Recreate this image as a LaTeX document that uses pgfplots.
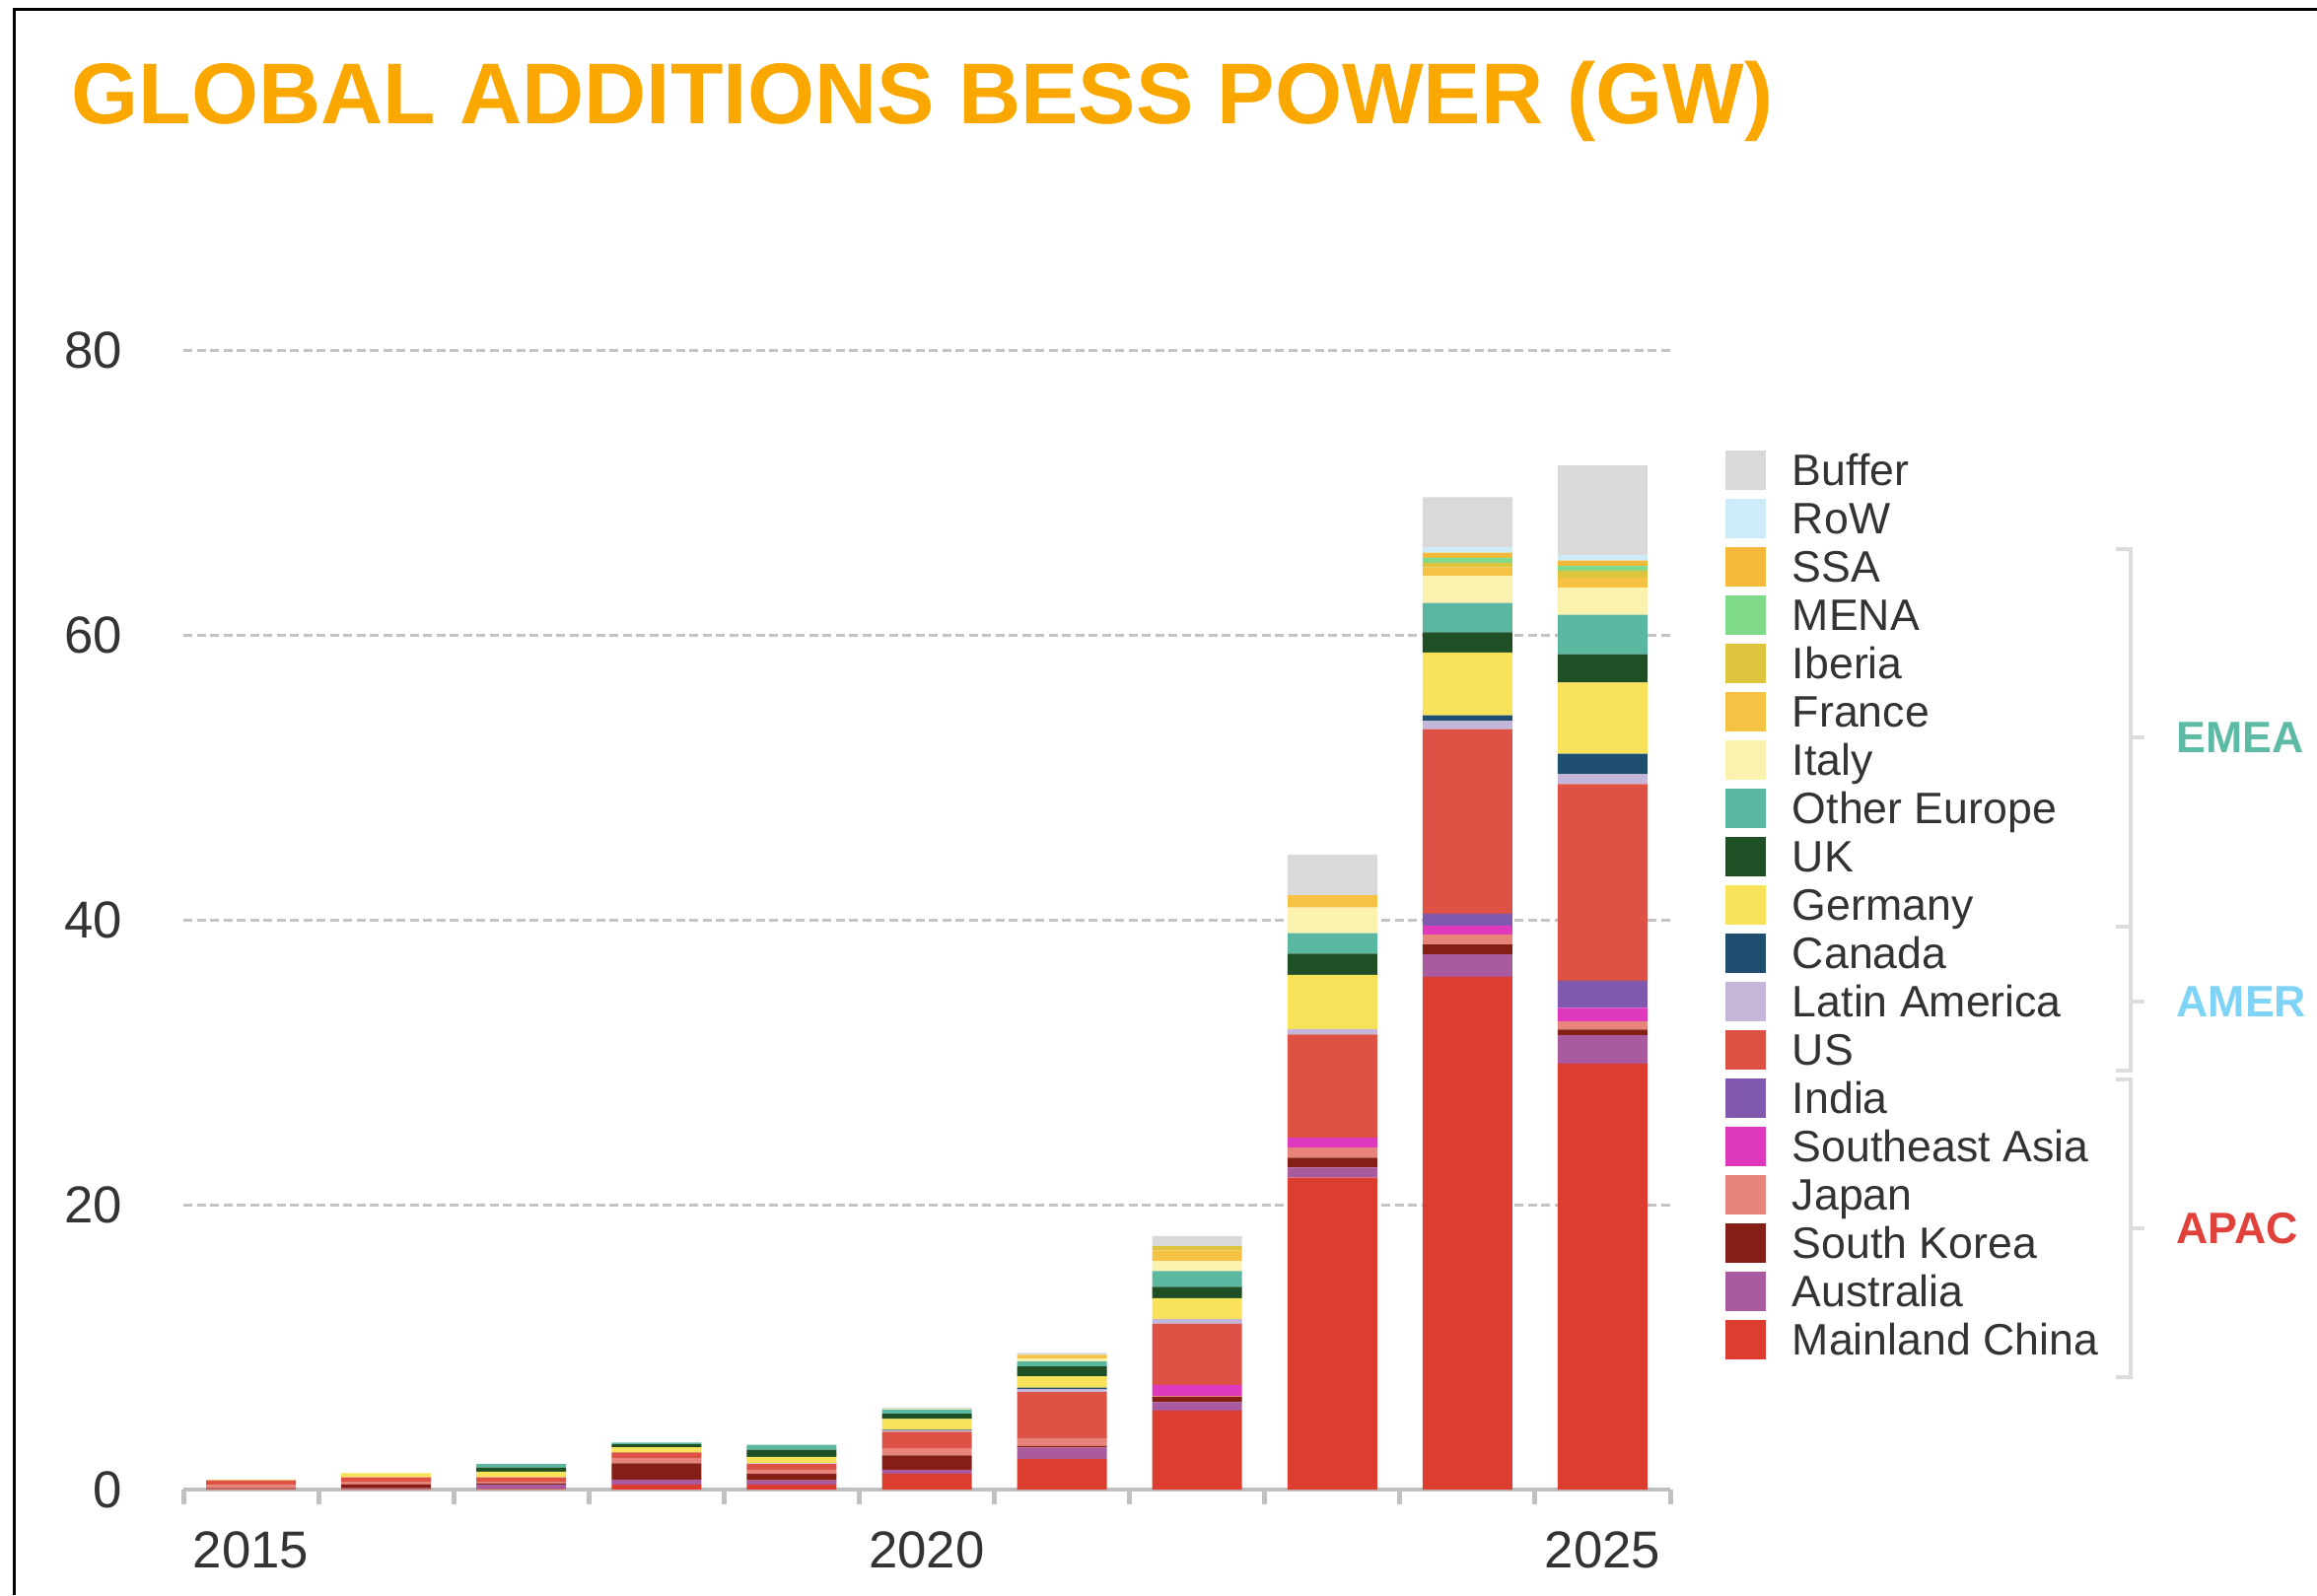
\documentclass[border=0pt]{standalone}
\usepackage{pgfplots}
\usepackage{pgfplotstable}
\pgfplotsset{compat=1.18}
\usepackage{fontspec}
\setmainfont{Liberation Sans}

\definecolor{cBuffer}{HTML}{D9D9D9}
\definecolor{cRoW}{HTML}{CDEBF8}
\definecolor{cSSA}{HTML}{F4B93A}
\definecolor{cMENA}{HTML}{7FDB8A}
\definecolor{cIberia}{HTML}{DDC43C}
\definecolor{cFrance}{HTML}{F5C244}
\definecolor{cItaly}{HTML}{FBF2B0}
\definecolor{cOE}{HTML}{5BB8A0}
\definecolor{cUK}{HTML}{1F4F24}
\definecolor{cGermany}{HTML}{F8E25A}
\definecolor{cCanada}{HTML}{1F4F70}
\definecolor{cLatAm}{HTML}{C4B6D8}
\definecolor{cUS}{HTML}{DD5244}
\definecolor{cIndia}{HTML}{8059AE}
\definecolor{cSEA}{HTML}{DE38BC}
\definecolor{cJapan}{HTML}{E6837A}
\definecolor{cSK}{HTML}{851E14}
\definecolor{cAus}{HTML}{AA5A9E}
\definecolor{cChina}{HTML}{DC3D2E}
\definecolor{titleorange}{HTML}{FAA800}
\definecolor{axisgray}{HTML}{C0C0C0}
\definecolor{gridgray}{HTML}{C4C4C4}
\definecolor{labelgray}{HTML}{333333}
\definecolor{bracketgray}{HTML}{DCDCDC}
\definecolor{cEMEA}{HTML}{5DBBA5}
\definecolor{cAMER}{HTML}{7FD3F7}
\definecolor{cAPAC}{HTML}{E0413A}

\pgfplotstableread{
year China Aus SK Japan SEA India US LatAm Canada Germany UK OE Italy France Iberia MENA SSA RoW Buffer
2015 0.05 0 0.05 0.2 0 0 0.35 0 0 0.05 0 0 0 0 0 0 0 0 0
2016 0.05 0.05 0.25 0.2 0 0 0.3 0 0 0.3 0 0 0 0 0 0 0 0 0
2017 0.05 0.3 0.1 0.1 0 0 0.3 0 0 0.4 0.3 0.25 0 0 0 0 0 0 0
2018 0.35 0.35 1.15 0.35 0 0 0.4 0 0 0.37 0.2 0.12 0 0 0 0 0 0 0
2019 0.35 0.3 0.45 0.3 0 0 0.4 0.05 0 0.45 0.5 0.35 0 0 0 0 0 0 0
2020 1.1 0.3 1.0 0.5 0 0 1.15 0.1 0.05 0.75 0.37 0.3 0.05 0 0 0 0 0 0.1
2021 2.15 0.8 0.1 0.55 0 0 3.25 0.2 0.1 0.8 0.7 0.35 0.2 0.25 0 0 0 0 0.15
2022 5.54 0.6 0.35 0.1 0.75 0 4.3 0.35 0 1.45 0.8 1.1 0.7 0.75 0.3 0 0 0 0.7
2023 21.9 0.7 0.7 0.7 0.7 0 7.25 0.38 0 3.8 1.5 1.43 1.8 0.86 0 0 0 0 2.86
2024 36.0 1.57 0.7 0.7 0.6 0.86 12.96 0.57 0.4 4.4 1.43 2.05 1.9 0.6 0.33 0.33 0.38 0.38 3.5
2025 29.9 2.0 0.4 0.57 0.95 1.9 13.8 0.7 1.43 5.0 2.0 2.76 1.9 0.7 0.5 0.33 0.38 0.38 6.3
}\datatable

\pgfplotsset{
  seg/.style={fill=#1, draw=none,
    legend image code/.code={\fill[#1] (0cm,-0.2cm) rectangle (0.41cm,0.2cm);}},
}

\begin{document}
\begin{tikzpicture}
\useasboundingbox (0,0) rectangle (23.5,16.18);
\fill[white] (0,0) rectangle (23.5,16.18);
\begin{axis}[
  at={(1.86cm,1.07cm)}, anchor=south west,
  scale only axis, width=15.08cm, height=11.56cm,
  xmin=2014.5, xmax=2025.5, ymin=0, ymax=80,
  ybar stacked, bar width=0.91cm,
  axis x line*=bottom, axis y line*=left,
  x axis line style={draw=axisgray, line width=0.045cm, -},
  y axis line style={draw=none},
  xtick={2015,2020,2025}, xticklabels={2015,2020,2025},
  minor xtick={2014.5,2015.5,...,2025.5},
  major tick length=0pt, minor tick length=0.15cm,
  tick align=outside,
  minor tick style={draw=axisgray, line width=0.05cm},
  ytick={0,20,40,60,80},
  ymajorgrids,
  major grid style={draw=gridgray, line width=0.85pt, dash pattern=on 0.9mm off 0.45mm},
  /pgf/number format/assume math mode=true,
  xticklabel style={font=\fontsize{15}{18}\selectfont, text=labelgray, anchor=north, inner sep=0pt, yshift=-0.42cm},
  yticklabel style={font=\fontsize{15}{18}\selectfont, text=labelgray, anchor=east, inner sep=0pt, xshift=-0.61cm},
  reverse legend,
  legend cell align=left,
  legend style={draw=none, fill=none, inner sep=0pt, outer sep=0pt,
    at={(1.0371,0.9118)}, anchor=north west,
    row sep=0.09cm, column sep=0.27cm,
    font=\fontsize{12.7}{15}\selectfont,
    nodes={inner sep=0pt, text height=0.36cm, text depth=0.04cm, text=labelgray}},
]
\addplot+[seg=cChina] table[x=year,y=China]{\datatable}; \addlegendentry{Mainland China}
\addplot+[seg=cAus] table[x=year,y=Aus]{\datatable}; \addlegendentry{Australia}
\addplot+[seg=cSK] table[x=year,y=SK]{\datatable}; \addlegendentry{South Korea}
\addplot+[seg=cJapan] table[x=year,y=Japan]{\datatable}; \addlegendentry{Japan}
\addplot+[seg=cSEA] table[x=year,y=SEA]{\datatable}; \addlegendentry{Southeast Asia}
\addplot+[seg=cIndia] table[x=year,y=India]{\datatable}; \addlegendentry{India}
\addplot+[seg=cUS] table[x=year,y=US]{\datatable}; \addlegendentry{US}
\addplot+[seg=cLatAm] table[x=year,y=LatAm]{\datatable}; \addlegendentry{Latin America}
\addplot+[seg=cCanada] table[x=year,y=Canada]{\datatable}; \addlegendentry{Canada}
\addplot+[seg=cGermany] table[x=year,y=Germany]{\datatable}; \addlegendentry{Germany}
\addplot+[seg=cUK] table[x=year,y=UK]{\datatable}; \addlegendentry{UK}
\addplot+[seg=cOE] table[x=year,y=OE]{\datatable}; \addlegendentry{Other Europe}
\addplot+[seg=cItaly] table[x=year,y=Italy]{\datatable}; \addlegendentry{Italy}
\addplot+[seg=cFrance] table[x=year,y=France]{\datatable}; \addlegendentry{France}
\addplot+[seg=cIberia] table[x=year,y=Iberia]{\datatable}; \addlegendentry{Iberia}
\addplot+[seg=cMENA] table[x=year,y=MENA]{\datatable}; \addlegendentry{MENA}
\addplot+[seg=cSSA] table[x=year,y=SSA]{\datatable}; \addlegendentry{SSA}
\addplot+[seg=cRoW] table[x=year,y=RoW]{\datatable}; \addlegendentry{RoW}
\addplot+[seg=cBuffer] table[x=year,y=Buffer]{\datatable}; \addlegendentry{Buffer}
\end{axis}
% frame
\draw[black, line width=0.03cm] (0.145,0) -- (0.145,16.083) -- (23.6,16.083);
% title
\node[anchor=base west, inner sep=0pt, font=\fontsize{24.9}{30}\selectfont\bfseries, text=titleorange] at (0.72,14.92) {GLOBAL ADDITIONS BESS POWER (GW)};
% brackets
\begin{scope}[draw=bracketgray, line width=0.04cm]
\draw (21.46,10.61) -- (21.61,10.61) -- (21.61,6.78) -- (21.46,6.78);
\draw (21.61,8.70) -- (21.75,8.70);
\draw (21.46,6.78) -- (21.61,6.78) -- (21.61,5.32) -- (21.46,5.32);
\draw (21.61,6.02) -- (21.75,6.02);
\draw (21.46,5.23) -- (21.61,5.23) -- (21.61,2.21) -- (21.46,2.21);
\draw (21.61,3.72) -- (21.75,3.72);
\end{scope}
\begin{scope}[font=\fontsize{12.7}{15}\selectfont\bfseries]
\node[anchor=west, inner sep=0pt, text=cEMEA] at (22.07,8.70) {EMEA};
\node[anchor=west, inner sep=0pt, text=cAMER] at (22.07,6.02) {AMER};
\node[anchor=west, inner sep=0pt, text=cAPAC] at (22.07,3.72) {APAC};
\end{scope}
\end{tikzpicture}
\end{document}
